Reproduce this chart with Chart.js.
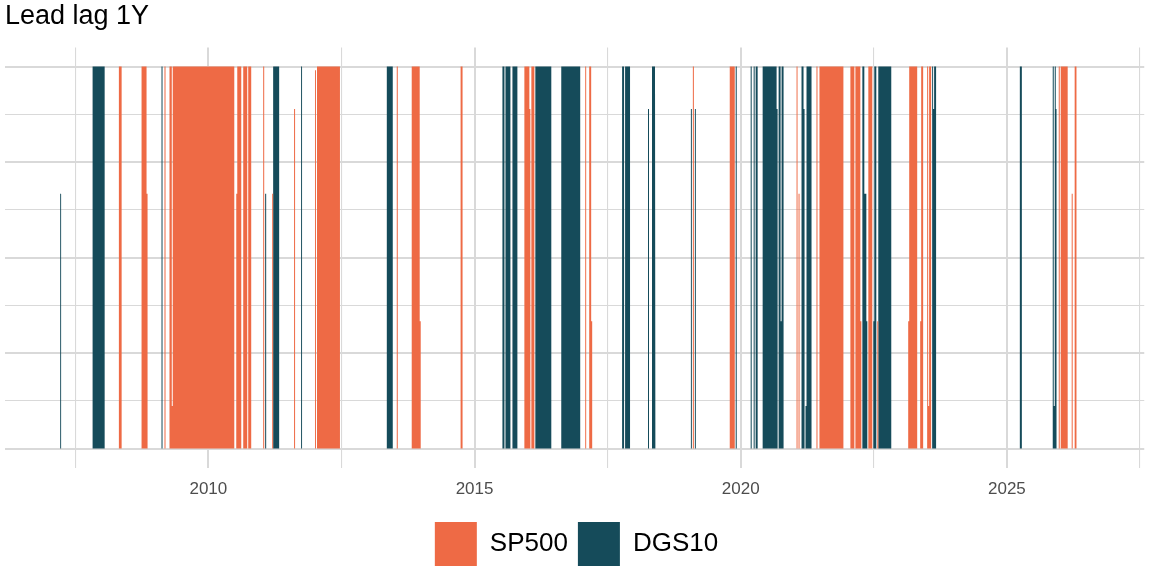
<!DOCTYPE html>
<html lang="en">
<head>
<meta charset="UTF-8">
<title>Lead lag 1Y</title>
<script src="https://cdn.jsdelivr.net/npm/chart.js"></script>
<style>
  body { margin: 0; background: #fff; }
  #wrap { width: 1152px; height: 576px; }
</style>
</head>
<body>
<div id="wrap"><canvas id="c"></canvas></div>
<script>
// periods where each series leads: [start year, end year, share]
var spBars = [
  [2008.315, 2008.371, 1], [2008.745, 2008.839, 1], [2008.839, 2008.858, 0.667],
  [2009.176, 2009.195, 1], [2009.270, 2009.313, 1], [2009.313, 2009.331, 0.111],
  [2009.331, 2010.487, 1], [2010.524, 2010.543, 0.667], [2010.543, 2010.618, 1],
  [2010.655, 2010.730, 1], [2010.749, 2010.805, 1], [2011.030, 2011.049, 1],
  [2011.199, 2011.217, 0.667], [2011.610, 2011.629, 0.889], [2012.004, 2012.022, 0.99],
  [2012.041, 2012.472, 1], [2013.539, 2013.558, 1], [2013.820, 2013.970, 1],
  [2013.970, 2013.989, 0.333], [2014.738, 2014.775, 1], [2015.936, 2016.030, 1],
  [2016.030, 2016.049, 0.889], [2016.067, 2016.124, 1], [2017.079, 2017.097, 1],
  [2017.154, 2017.191, 1], [2017.191, 2017.210, 0.333], [2019.101, 2019.120, 1],
  [2019.794, 2019.888, 1], [2021.049, 2021.067, 1], [2021.086, 2021.105, 0.667],
  [2021.423, 2021.442, 1], [2021.479, 2021.929, 1], [2022.060, 2022.135, 1],
  [2022.154, 2022.247, 1], [2022.247, 2022.266, 0.333], [2022.397, 2022.472, 1],
  [2022.566, 2022.584, 0.333], [2023.146, 2023.165, 0.333], [2023.165, 2023.315, 1],
  [2023.371, 2023.390, 0.333], [2023.390, 2023.427, 1], [2023.502, 2023.521, 1],
  [2023.521, 2023.539, 0.111], [2023.539, 2023.577, 1], [2025.974, 2025.993, 1],
  [2026.011, 2026.142, 1], [2026.217, 2026.236, 0.667], [2026.273, 2026.311, 1]
];
var dgsBars = [
  [2007.215, 2007.234, 0.667], [2007.815, 2007.828, 0.889], [2007.828, 2008.052, 1],
  [2009.120, 2009.139, 1], [2011.067, 2011.086, 0.667], [2011.217, 2011.330, 1],
  [2011.742, 2011.760, 1], [2013.352, 2013.464, 1], [2015.524, 2015.562, 1],
  [2015.581, 2015.674, 1], [2015.712, 2015.805, 1], [2016.142, 2016.442, 1],
  [2016.629, 2016.985, 1], [2017.772, 2017.809, 1], [2017.828, 2017.921, 1],
  [2018.258, 2018.277, 0.889], [2018.333, 2018.390, 1], [2018.390, 2018.408, 0.889],
  [2019.064, 2019.082, 0.889], [2019.139, 2019.157, 0.889], [2019.906, 2019.925, 1],
  [2020.187, 2020.206, 1], [2020.243, 2020.262, 1], [2020.281, 2020.318, 1],
  [2020.412, 2020.674, 1], [2020.674, 2020.693, 0.889], [2020.712, 2020.749, 1],
  [2020.749, 2020.768, 0.333], [2020.768, 2020.805, 1], [2021.142, 2021.180, 1],
  [2021.180, 2021.199, 0.889], [2021.217, 2021.236, 0.111], [2021.236, 2021.330, 1],
  [2022.285, 2022.322, 1], [2022.322, 2022.360, 0.667], [2022.360, 2022.378, 0.333],
  [2022.491, 2022.509, 0.333], [2022.509, 2022.547, 1], [2022.584, 2022.828, 1],
  [2023.596, 2023.614, 1], [2023.614, 2023.633, 0.889], [2023.633, 2023.670, 1],
  [2025.243, 2025.281, 1], [2025.861, 2025.880, 1], [2025.880, 2025.899, 0.111],
  [2025.899, 2025.918, 1], [2025.918, 2025.936, 0.889]
];
var yearTicks = [2007.5, 2010, 2012.5, 2015, 2017.5, 2020, 2022.5, 2025, 2027.5];

// outline each period as a closed block: up at start, across, down at end
function toBlocks(bars) {
  var pts = [];
  bars.forEach(function (b) {
    pts.push({ x: b[0], y: 0 }, { x: b[0], y: b[2] }, { x: b[1], y: b[2] }, { x: b[1], y: 0 });
  });
  return pts;
}

var ctx = document.getElementById('c').getContext('2d');
new Chart(ctx, {
  type: 'line',
  data: {
    datasets: [
      { label: 'SP500', data: toBlocks(spBars), fill: 'origin', tension: 0,
        backgroundColor: '#EE6A45', borderColor: '#EE6A45', borderWidth: 0, pointRadius: 0 },
      { label: 'DGS10', data: toBlocks(dgsBars), fill: 'origin', tension: 0,
        backgroundColor: '#154B5A', borderColor: '#154B5A', borderWidth: 0, pointRadius: 0 }
    ]
  },
  options: {
    responsive: true,
    maintainAspectRatio: false,
    animation: false,
    parsing: false,
    normalized: true,
    layout: { padding: { left: 5, right: 4, top: 0, bottom: 0 } },
    plugins: {
      tooltip: { enabled: false },
      title: {
        display: true, text: 'Lead lag 1Y', align: 'start', color: '#000',
        font: { family: 'Arial, Liberation Sans', size: 27, weight: 'normal' },
        padding: { top: 0, bottom: 15 }
      },
      legend: {
        position: 'bottom',
        labels: {
          color: '#000', boxWidth: 42, boxHeight: 44, padding: 10,
          font: { family: 'Arial, Liberation Sans', size: 26 }
        }
      }
    },
    scales: {
      x: {
        type: 'linear', min: 2006.18, max: 2027.58,
        border: { display: false },
        afterBuildTicks: function (axis) {
          axis.ticks = yearTicks.map(function (v) { return { value: v }; });
        },
        ticks: {
          autoSkip: false, maxRotation: 0, color: '#4d4d4d', padding: 12,
          font: { family: 'Arial, Liberation Sans', size: 17 },
          callback: function (v) { return v % 5 === 0 ? String(v) : ''; }
        },
        grid: {
          drawTicks: false,
          color: '#d9d9d9',
          lineWidth: function (c) { return c.tick && c.tick.value % 5 === 0 ? 2 : 1.1; }
        }
      },
      y: {
        min: -0.05, max: 1.05,
        border: { display: false },
        afterBuildTicks: function (axis) {
          var t = [];
          for (var i = 0; i <= 8; i++) t.push({ value: i / 8 });
          axis.ticks = t;
        },
        ticks: { display: false },
        grid: {
          drawTicks: false,
          color: '#d9d9d9',
          lineWidth: function (c) { return c.tick && (c.tick.value * 4) % 1 === 0 ? 2 : 1.1; }
        }
      }
    }
  }
});
</script>
</body>
</html>
